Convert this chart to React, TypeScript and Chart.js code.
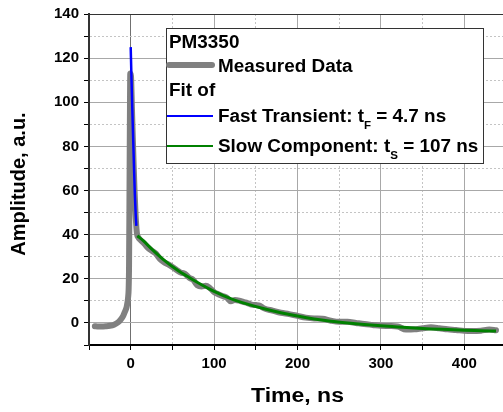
import React, { useEffect, useRef } from "react";
import { Chart, registerables } from "chart.js";

Chart.register(...registerables);

// Measured data (time in ns, amplitude in a.u.)
const measuredTime = [
  -43, -40, -35, -30, -25, -20, -15, -12, -9, -7, -5, -4, -3, -2.5, -2, -1.5, -1, -0.5, 0.3, 1.5, 2.5, 3.5, 4.5, 5.5, 6.5, 7.5,
  9, 12, 16, 20, 25, 30, 35, 40, 45, 50, 55, 60, 65, 70, 75, 80, 85, 90, 95, 100, 105, 110, 115, 120, 125, 130,
  135, 140, 145, 150, 155, 160, 170, 180, 190, 200, 210, 220, 230, 240, 250, 260, 270, 280, 290, 300, 310, 320,
  330, 340, 350, 360, 370, 380, 390, 400, 410, 420, 430, 438,
];
const measuredAmp = [
  -1.5, -1.6, -1.6, -1.5, -1.3, -0.8, 0.3, 1.5, 3.2, 5.0, 7.0, 9, 12, 15, 25, 55, 90, 113, 112, 97, 84, 72, 61, 52, 45, 40.5,
  38.8, 37.5, 36.0, 34.3, 32.8, 31.5, 29.0, 27.5, 26.5, 25.3, 24.0, 22.8, 22.3, 20.5, 19.5, 17.0, 16.5, 16.8, 15.8,
  14.0, 13.0, 12.2, 11.5, 9.8, 10.4, 10.1, 9.5, 9.0, 8.3, 8.1, 7.8, 6.6, 5.6, 4.6, 4.0, 3.2, 2.4, 2.0, 1.9, 1.0, 0.5,
  0.5, 0.0, -0.5, -0.9, -1.3, -1.4, -1.6, -3.0, -2.9, -2.4, -2.0, -2.4, -2.9, -3.2, -3.6, -3.7, -3.5, -3.0, -3.3,
];

// Fit of fast transient
const fastTime = [0, 1, 2, 3, 4, 5, 6, 6.8];
const fastAmp = [125, 110, 96, 83, 70, 58, 49, 44];

// Fit of slow component
const slowTime = [8, 15, 25, 40, 55, 70, 85, 100, 120, 140, 160, 180, 200, 220, 240, 260, 280, 300, 320, 340, 360, 380, 400, 420, 438];
const slowAmp = [39.5, 37.3, 33.6, 28.5, 24.2, 20.6, 17.3, 14.3, 11.0, 8.5, 6.4, 4.6, 3.1, 1.8, 0.8, 0.0, -0.7, -1.3, -1.8, -2.3, -2.7, -3.0, -3.3, -3.5, -3.7];

// Axis ticks
const xTicks = [-50, 0, 50, 100, 150, 200, 250, 300, 350, 400];
const yTicks = [-10, 0, 10, 20, 30, 40, 50, 60, 70, 80, 90, 100, 110, 120, 130, 140];

const FONT = "'Liberation Sans', Arial, sans-serif";

function drawText(ctx: CanvasRenderingContext2D, text: string, x: number, y: number, size: number, sx = 1) {
  ctx.save();
  ctx.translate(x, y);
  ctx.scale(sx, 1);
  ctx.font = `bold ${size}px ${FONT}`;
  ctx.fillText(text, 0, 0);
  const w = ctx.measureText(text).width * sx;
  ctx.restore();
  return w;
}

const overlayPlugin = {
  id: "overlay",
  afterDraw(chart: any) {
    const ctx: CanvasRenderingContext2D = chart.ctx;
    ctx.save();
    ctx.fillStyle = "#000";
    ctx.textBaseline = "alphabetic";
    ctx.textAlign = "left";

    // Axis titles
    ctx.font = `bold 20px ${FONT}`;
    const xt = "Time, ns";
    const xtw = ctx.measureText(xt).width * 1.15;
    drawText(ctx, xt, 297.5 - xtw / 2, 402, 20, 1.15);

    ctx.save();
    ctx.translate(25, 184);
    ctx.rotate(-Math.PI / 2);
    ctx.font = `bold 20px ${FONT}`;
    const yt = "Amplitude, a.u.";
    const ytw = ctx.measureText(yt).width;
    ctx.fillText(yt, -ytw / 2, 0);
    ctx.restore();

    // Legend box
    const bx = 166, by = 28, bw = 318, bh = 136;
    ctx.fillStyle = "#fff";
    ctx.fillRect(bx, by, bw, bh);
    ctx.strokeStyle = "#333";
    ctx.lineWidth = 1;
    ctx.strokeRect(bx + 0.5, by + 0.5, bw - 1, bh - 1);

    ctx.fillStyle = "#000";
    const sx = 1.05;
    drawText(ctx, "PM3350", 169, 48, 18, sx);

    ctx.lineCap = "round";
    ctx.strokeStyle = "#808080";
    ctx.lineWidth = 6;
    ctx.beginPath();
    ctx.moveTo(169, 65);
    ctx.lineTo(212, 65);
    ctx.stroke();
    drawText(ctx, "Measured Data", 218, 72, 18, sx);

    drawText(ctx, "Fit of", 169, 96, 18, sx);

    ctx.lineCap = "butt";
    ctx.strokeStyle = "#0000ff";
    ctx.lineWidth = 2;
    ctx.beginPath();
    ctx.moveTo(167, 116);
    ctx.lineTo(213, 116);
    ctx.stroke();
    let x = 218;
    x += drawText(ctx, "Fast Transient: t", x, 122, 18, sx);
    x += drawText(ctx, "F", x, 128.5, 11, sx);
    drawText(ctx, " = 4.7 ns", x, 122, 18, sx);

    ctx.strokeStyle = "#008000";
    ctx.lineWidth = 2;
    ctx.beginPath();
    ctx.moveTo(167, 146);
    ctx.lineTo(213, 146);
    ctx.stroke();
    x = 218;
    x += drawText(ctx, "Slow Component: t", x, 152, 18, sx);
    x += drawText(ctx, "S", x, 158.5, 11, sx);
    drawText(ctx, " = 107 ns", x, 152, 18, sx);

    ctx.restore();
  },
};

export default function App() {
  const ref = useRef<HTMLCanvasElement | null>(null);

  useEffect(() => {
    if (!ref.current) return;
    const tickFont = { family: FONT, size: 15, weight: "bold" as const };
    const chart = new Chart(ref.current, {
      type: "scatter",
      data: {
        datasets: [
          {
            label: "Measured Data",
            data: measuredTime.map((t, i) => ({ x: t, y: measuredAmp[i] })),
            showLine: true,
            borderColor: "#808080",
            backgroundColor: "#808080",
            borderWidth: 6,
            pointRadius: 0,
            borderJoinStyle: "round",
            borderCapStyle: "round",
            cubicInterpolationMode: "monotone",
            order: 3,
          },
          {
            label: "Fast Transient",
            data: fastTime.map((t, i) => ({ x: t, y: fastAmp[i] })),
            showLine: true,
            borderColor: "#0000ff",
            backgroundColor: "#0000ff",
            borderWidth: 2.5,
            pointRadius: 0,
            cubicInterpolationMode: "monotone",
            order: 2,
          },
          {
            label: "Slow Component",
            data: slowTime.map((t, i) => ({ x: t, y: slowAmp[i] })),
            showLine: true,
            borderColor: "#008000",
            backgroundColor: "#008000",
            borderWidth: 3,
            pointRadius: 0,
            cubicInterpolationMode: "monotone",
            order: 1,
          },
        ],
      },
      options: {
        animation: false,
        responsive: true,
        maintainAspectRatio: false,
        layout: { padding: { top: 10, right: 0, left: 0, bottom: 0 } },
        plugins: { legend: { display: false }, tooltip: { enabled: false } },
        scales: {
          x: {
            type: "linear",
            min: -50,
            max: 446.4,
            afterBuildTicks: (s: any) => {
              s.ticks = xTicks.map((v) => ({ value: v }));
            },
            afterFit: (s: any) => {
              s.height = 67;
            },
            ticks: {
              autoSkip: false,
              maxRotation: 0,
              padding: 5,
              color: "#000",
              font: tickFont,
              callback: (v: any) => (Number(v) % 100 === 0 ? String(v) : ""),
            },
            grid: {
              color: (c: any) => {
                const v = c.tick ? c.tick.value : null;
                if (v === null || v === -50) return "rgba(0,0,0,0)";
                if (v === 0) return "#707070";
                if (v % 100 === 0) return "#a8a8a8";
                return "#c4c4c4";
              },
              lineWidth: 1,
              drawTicks: true,
              tickLength: 5,
              tickColor: "#000",
              tickWidth: 1,
            },
            border: {
              display: true,
              color: "#000",
              width: 2,
              dash: (c: any) => (c.tick && c.tick.value % 100 !== 0 ? [2, 2] : []),
            },
          },
          y: {
            type: "linear",
            min: -10,
            max: 140,
            afterBuildTicks: (s: any) => {
              s.ticks = yTicks.map((v) => ({ value: v }));
            },
            afterFit: (s: any) => {
              s.width = 89;
            },
            ticks: {
              autoSkip: false,
              padding: 5,
              color: "#000",
              font: tickFont,
              callback: (v: any) => (Number(v) % 20 === 0 ? String(v) : ""),
            },
            grid: {
              color: (c: any) => {
                const v = c.tick ? c.tick.value : null;
                if (v === null || v === -10) return "rgba(0,0,0,0)";
                if (v === 140) return "#333";
                if (v % 20 === 0) return "#a8a8a8";
                return "#c4c4c4";
              },
              lineWidth: 1,
              drawTicks: true,
              tickLength: 5,
              tickColor: "#000",
              tickWidth: 1,
            },
            border: {
              display: true,
              color: "#333",
              width: 2,
              dash: (c: any) => (c.tick && c.tick.value % 20 !== 0 ? [2, 2] : []),
            },
          },
        },
      },
      plugins: [overlayPlugin],
    } as any);
    return () => chart.destroy();
  }, []);

  return (
    <div style={{ position: "absolute", left: 0, top: 0, width: 503, height: 412 }}>
      <canvas ref={ref} />
    </div>
  );
}
